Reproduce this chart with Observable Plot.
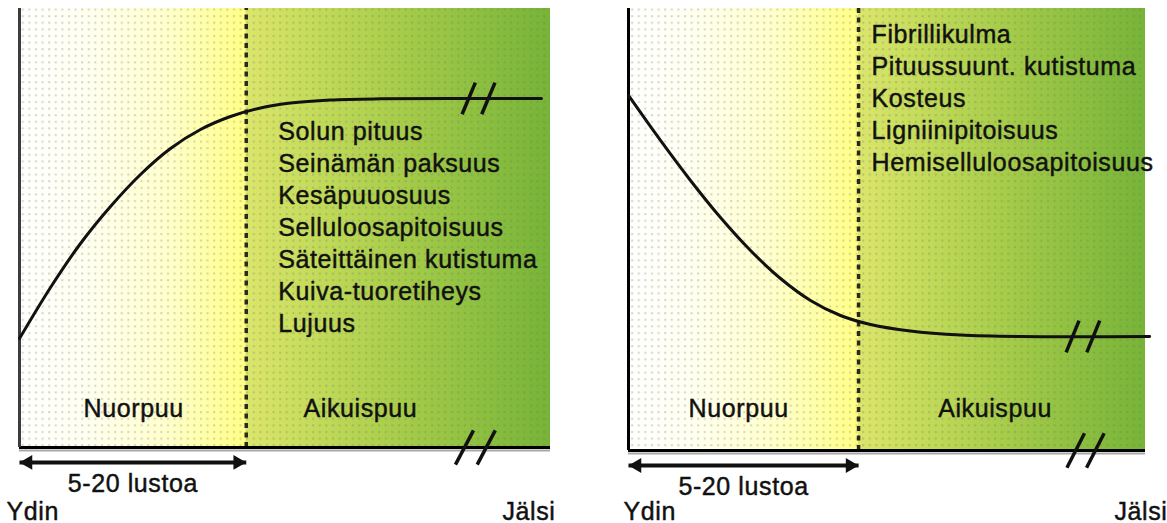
<!DOCTYPE html>
<html>
<head>
<meta charset="utf-8">
<script src="https://cdn.jsdelivr.net/npm/d3@7"></script>
<script src="https://cdn.jsdelivr.net/npm/@observablehq/plot@0.6"></script>
<style>
  html, body { margin: 0; padding: 0; background: #ffffff; }
  #wrap { display: flex; width: 1167px; height: 523px; overflow: hidden; }
  #wrap svg text { letter-spacing: 0.6px; }
</style>
</head>
<body>
<div id="wrap"></div>
<script>
// ---- data (x = relative distance from pith to bark, 0–100; y = relative property value, 0–100)
const leftRadial  = [0, 5.84, 11.49, 17.14, 22.79, 28.44, 34.09, 39.74, 45.39, 51.04, 58.57, 67.98, 81.17, 98.3];
const leftValue   = [24.83, 36.45, 46.47, 54.90, 62.19, 68.11, 72.44, 75.40, 77.33, 78.47, 79.16, 79.43, 79.5, 79.5];
const rightRadial = [0, 6.19, 11.99, 17.79, 23.6, 29.4, 35.2, 41.0, 46.8, 54.5, 64.2, 75.8, 100.8];
const rightValue  = [80.32, 70.14, 61.09, 52.71, 45.25, 38.91, 33.94, 30.54, 28.51, 27.04, 26.13, 25.79, 25.79];
const juvenileLimit = [42.7, 44.5];
const leftProperties = ["Solun pituus", "Seinämän paksuus", "Kesäpuuosuus", "Selluloosapitoisuus",
                        "Säteittäinen kutistuma", "Kuiva-tuoretiheys", "Lujuus"];
const rightProperties = ["Fibrillikulma", "Pituussuunt. kutistuma", "Kosteus", "Ligniinipitoisuus",
                         "Hemiselluloosapitoisuus"];
const zoneLabels = ["Nuorpuu", "Aikuispuu"];
const spanLabel = "5-20 lustoa";
const endLabels = ["Ydin", "Jälsi"];
const curveBreaks = [[84.6, 88.3], [85.9, 89.9]];
const axisBreaks = [[83.8, 87.9], [86.5, 90.3]];

// ---- layout (per panel)
const panels = [
  { radial: leftRadial, value: leftValue, props: leftProperties, limit: juvenileLimit[0],
    brk: curveBreaks[0], abrk: axisBreaks[0],
    width: 583, mL: 19, mR: 33, mT: 8, mB: 76, axisColor: "#3c3c3c",
    zoneX: [21.5, 64.2], zoneDy: -39, listDx: 32, listDy: 109,
    spanDy: 36, endDy: 64, ydinDx: -13, jalsiDx: 5 },
  { radial: rightRadial, value: rightValue, props: rightProperties, limit: juvenileLimit[1],
    brk: curveBreaks[1], abrk: axisBreaks[1],
    width: 584, mL: 45, mR: 22, mT: 8, mB: 73, axisColor: "#000000",
    zoneX: [21.3, 70.9], zoneDy: -42, listDx: 13, listDy: 12,
    spanDy: 36, endDy: 61, ydinDx: -5, jalsiDx: 22 }
];

const FONT = "Liberation Sans, Arial, sans-serif";
const FS = 25;
const INK = "#111111";

function background(i, limit) {
  return (index, scales) => {
    const x = scales.x, y = scales.y;
    const x0 = x(0), x1 = x(100), y0 = y(100), y1 = y(0);
    const g = d3.create("svg:g");
    const defs = g.append("defs");
    const lg = defs.append("linearGradient")
      .attr("id", "bg" + i).attr("gradientUnits", "userSpaceOnUse")
      .attr("x1", x0).attr("x2", x1).attr("y1", 0).attr("y2", 0);
    const L = limit / 100, R = 1 - L;
    const stops = [
      [0, "#ffffff"], [0.12, "#fffff2"], [0.28, "#ffffcc"], [L - 0.001, "#ffff86"],
      [L, "#dbe66c"], [L + R * 0.2, "#c6dc5c"], [L + R * 0.55, "#a2ca48"], [1, "#76b438"]
    ];
    for (const [o, c] of stops) lg.append("stop").attr("offset", o).attr("stop-color", c);
    const pat = defs.append("pattern").attr("id", "dots" + i)
      .attr("patternUnits", "userSpaceOnUse").attr("width", 6.6).attr("height", 6.6);
    pat.append("rect").attr("x", 2).attr("y", 2).attr("width", 2).attr("height", 2)
      .attr("fill", "#707050").attr("fill-opacity", 0.3);
    g.append("rect").attr("x", x0).attr("y", y0).attr("width", x1 - x0).attr("height", y1 - y0)
      .attr("fill", "url(#bg" + i + ")");
    g.append("rect").attr("x", x0).attr("y", y0).attr("width", x1 - x0).attr("height", y1 - y0)
      .attr("fill", "url(#dots" + i + ")");
    return g.node();
  };
}

const wrap = document.getElementById("wrap");
panels.forEach((p, i) => {
  const curve = p.radial.map((r, k) => ({ r, v: p.value[k] }));
  const curveY = p.value[p.value.length - 1];
  const txt = { fontFamily: FONT, fontSize: FS, fill: INK, stroke: INK, strokeWidth: 0.45 };
  const chart = Plot.plot({
    width: p.width, height: 523,
    marginLeft: p.mL, marginRight: p.mR, marginTop: p.mT, marginBottom: p.mB,
    x: { domain: [0, 100], axis: null },
    y: { domain: [0, 100], axis: null },
    style: { fontFamily: FONT, background: "transparent", overflow: "visible" },
    marks: [
      background(i, p.limit),
      Plot.ruleX([p.limit], { y1: 0, y2: 100, stroke: "#2a2a1c", strokeWidth: 3.5, strokeDasharray: "5,4.5" }),
      Plot.ruleY([0], { x1: 0, x2: 100, dy: 3, stroke: "#a8a8a8", strokeWidth: 2 }),
      Plot.ruleY([0], { x1: 0, x2: 100, stroke: "#000", strokeWidth: 3 }),
      Plot.ruleX([0], { y1: 0, y2: 100, stroke: p.axisColor, strokeWidth: 3 }),
      Plot.line(curve, { x: "r", y: "v", curve: "catmull-rom", stroke: INK, strokeWidth: 3 }),
      Plot.link(p.brk, { x1: d => d - 1.25, x2: d => d + 1.25, y1: curveY - 3.6, y2: curveY + 3.6,
                         stroke: INK, strokeWidth: 3.5 }),
      Plot.link(p.abrk, { x1: d => d - 1.7, x2: d => d + 1.7, y1: -3.9, y2: 3.9,
                          stroke: INK, strokeWidth: 3.5 }),
      // span arrow
      Plot.link([p.limit], { x1: 0, x2: d => d, y1: -3.4, y2: -3.4, stroke: INK, strokeWidth: 4 }),
      Plot.dot([0], { x: d => d, y: -3.4, symbol: "triangle", r: 5.5, rotate: -90, dx: 8.5, fill: INK, stroke: null }),
      Plot.dot([p.limit], { x: d => d, y: -3.4, symbol: "triangle", r: 5.5, rotate: 90, dx: -8.5, fill: INK, stroke: null }),
      // texts
      Plot.text([p.props.join("\n")], { x: p.limit, y: 100, dx: p.listDx, dy: p.listDy,
        textAnchor: "start", lineAnchor: "top", lineHeight: 1.28, ...txt }),
      Plot.text(zoneLabels, { x: p.zoneX, y: 0, dy: p.zoneDy, ...txt }),
      Plot.text([spanLabel], { x: p.limit / 2, y: 0, dy: p.spanDy, ...txt }),
      Plot.text([endLabels[0]], { x: 0, y: 0, dx: p.ydinDx, dy: p.endDy, textAnchor: "start", ...txt }),
      Plot.text([endLabels[1]], { x: 100, y: 0, dx: p.jalsiDx, dy: p.endDy, textAnchor: "end", ...txt })
    ]
  });
  wrap.appendChild(chart);
});
</script>
</body>
</html>
